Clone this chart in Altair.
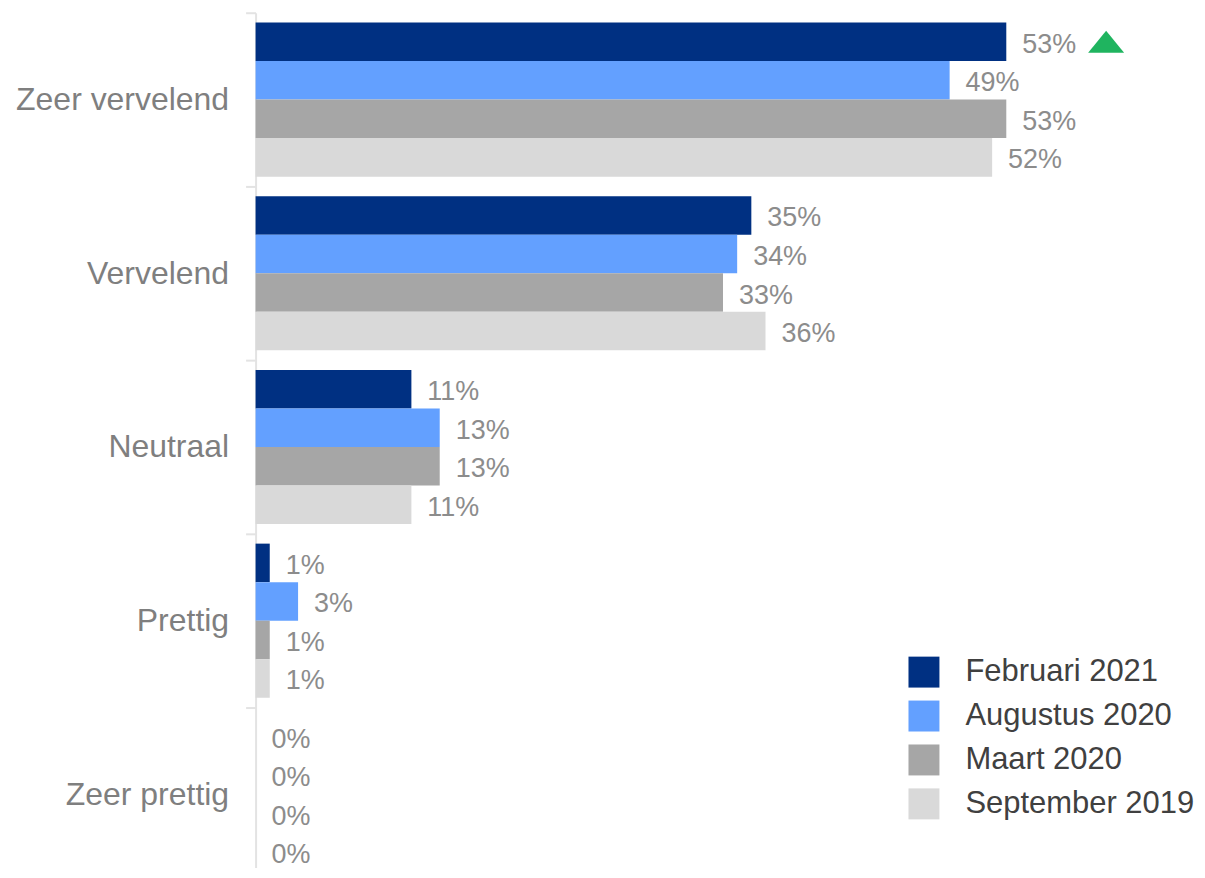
import altair as alt
import pandas as pd

categories = ["Zeer vervelend", "Vervelend", "Neutraal", "Prettig", "Zeer prettig"]
series = ["Februari 2021", "Augustus 2020", "Maart 2020", "September 2019"]
feb_2021 = [53, 35, 11, 1, 0]
aug_2020 = [49, 34, 13, 3, 0]
mrt_2020 = [53, 33, 13, 1, 0]
sep_2019 = [52, 36, 11, 1, 0]
colors = ["#003082", "#63a0ff", "#a6a6a6", "#d9d9d9"]
marker_category = "Zeer vervelend"
marker_series = "Februari 2021"

rows = []
for s, vals in zip(series, [feb_2021, aug_2020, mrt_2020, sep_2019]):
    for c, v in zip(categories, vals):
        rows.append({"categorie": c, "periode": s, "waarde": v, "label": f"{v}%"})
df = pd.DataFrame(rows)
marker_df = df[(df.categorie == marker_category) & (df.periode == marker_series)]

FONT = "Liberation Sans"

y_enc = alt.Y(
    "categorie:N",
    sort=categories,
    scale=alt.Scale(paddingInner=0, paddingOuter=0, range=[0, 870]),
    axis=alt.Axis(
        title=None, labelFontSize=32, labelColor="#7f7f7f", labelFont=FONT,
        labelPadding=17, tickSize=10, tickColor="#e3e3e3", tickWidth=2,
        domainColor="#e3e3e3", domainWidth=2, tickBand="extent",
        labelLimit=400, grid=False,
    ),
)
yoff = alt.YOffset("periode:N", sort=series,
                   scale=alt.Scale(paddingInner=0, paddingOuter=0.254))
x_enc = alt.X("waarde:Q", scale=alt.Scale(domain=[0, 65.9], nice=False), axis=None)

bars = alt.Chart(df).mark_bar().encode(
    x=x_enc,
    y=y_enc,
    yOffset=yoff,
    color=alt.Color(
        "periode:N",
        sort=series,
        scale=alt.Scale(domain=series, range=colors),
        legend=alt.Legend(
            title=None, orient="none", legendX=654, legendY=645,
            symbolType="square", symbolSize=961, symbolStrokeWidth=0,
            labelFontSize=31, labelColor="#404040", labelFont=FONT,
            labelOffset=26, rowPadding=12, labelLimit=500,
        ),
    ),
)

labels = alt.Chart(df).mark_text(
    align="left", baseline="middle", dx=16, dy=3, fontSize=27, color="#8c8c8c", font=FONT
).encode(x=x_enc, y=y_enc, yOffset=yoff, text="label:N")

marker = alt.Chart(marker_df).mark_point(
    shape="M-1,0.61L1,0.61L0,-0.61Z", filled=True, size=1296, opacity=1,
    color="#1fb45f", xOffset=100, strokeWidth=0,
).encode(x=x_enc, y=y_enc, yOffset=yoff)

chart = (
    alt.layer(bars, labels, marker)
    .properties(
        width=935, height=856,
        autosize=alt.AutoSizeParams(type="none"),
        padding={"left": 248, "top": 4, "right": 8, "bottom": 0},
    )
    .configure_view(stroke=None)
)

chart.save("out.html", embed_options={"renderer": "svg", "actions": False})
